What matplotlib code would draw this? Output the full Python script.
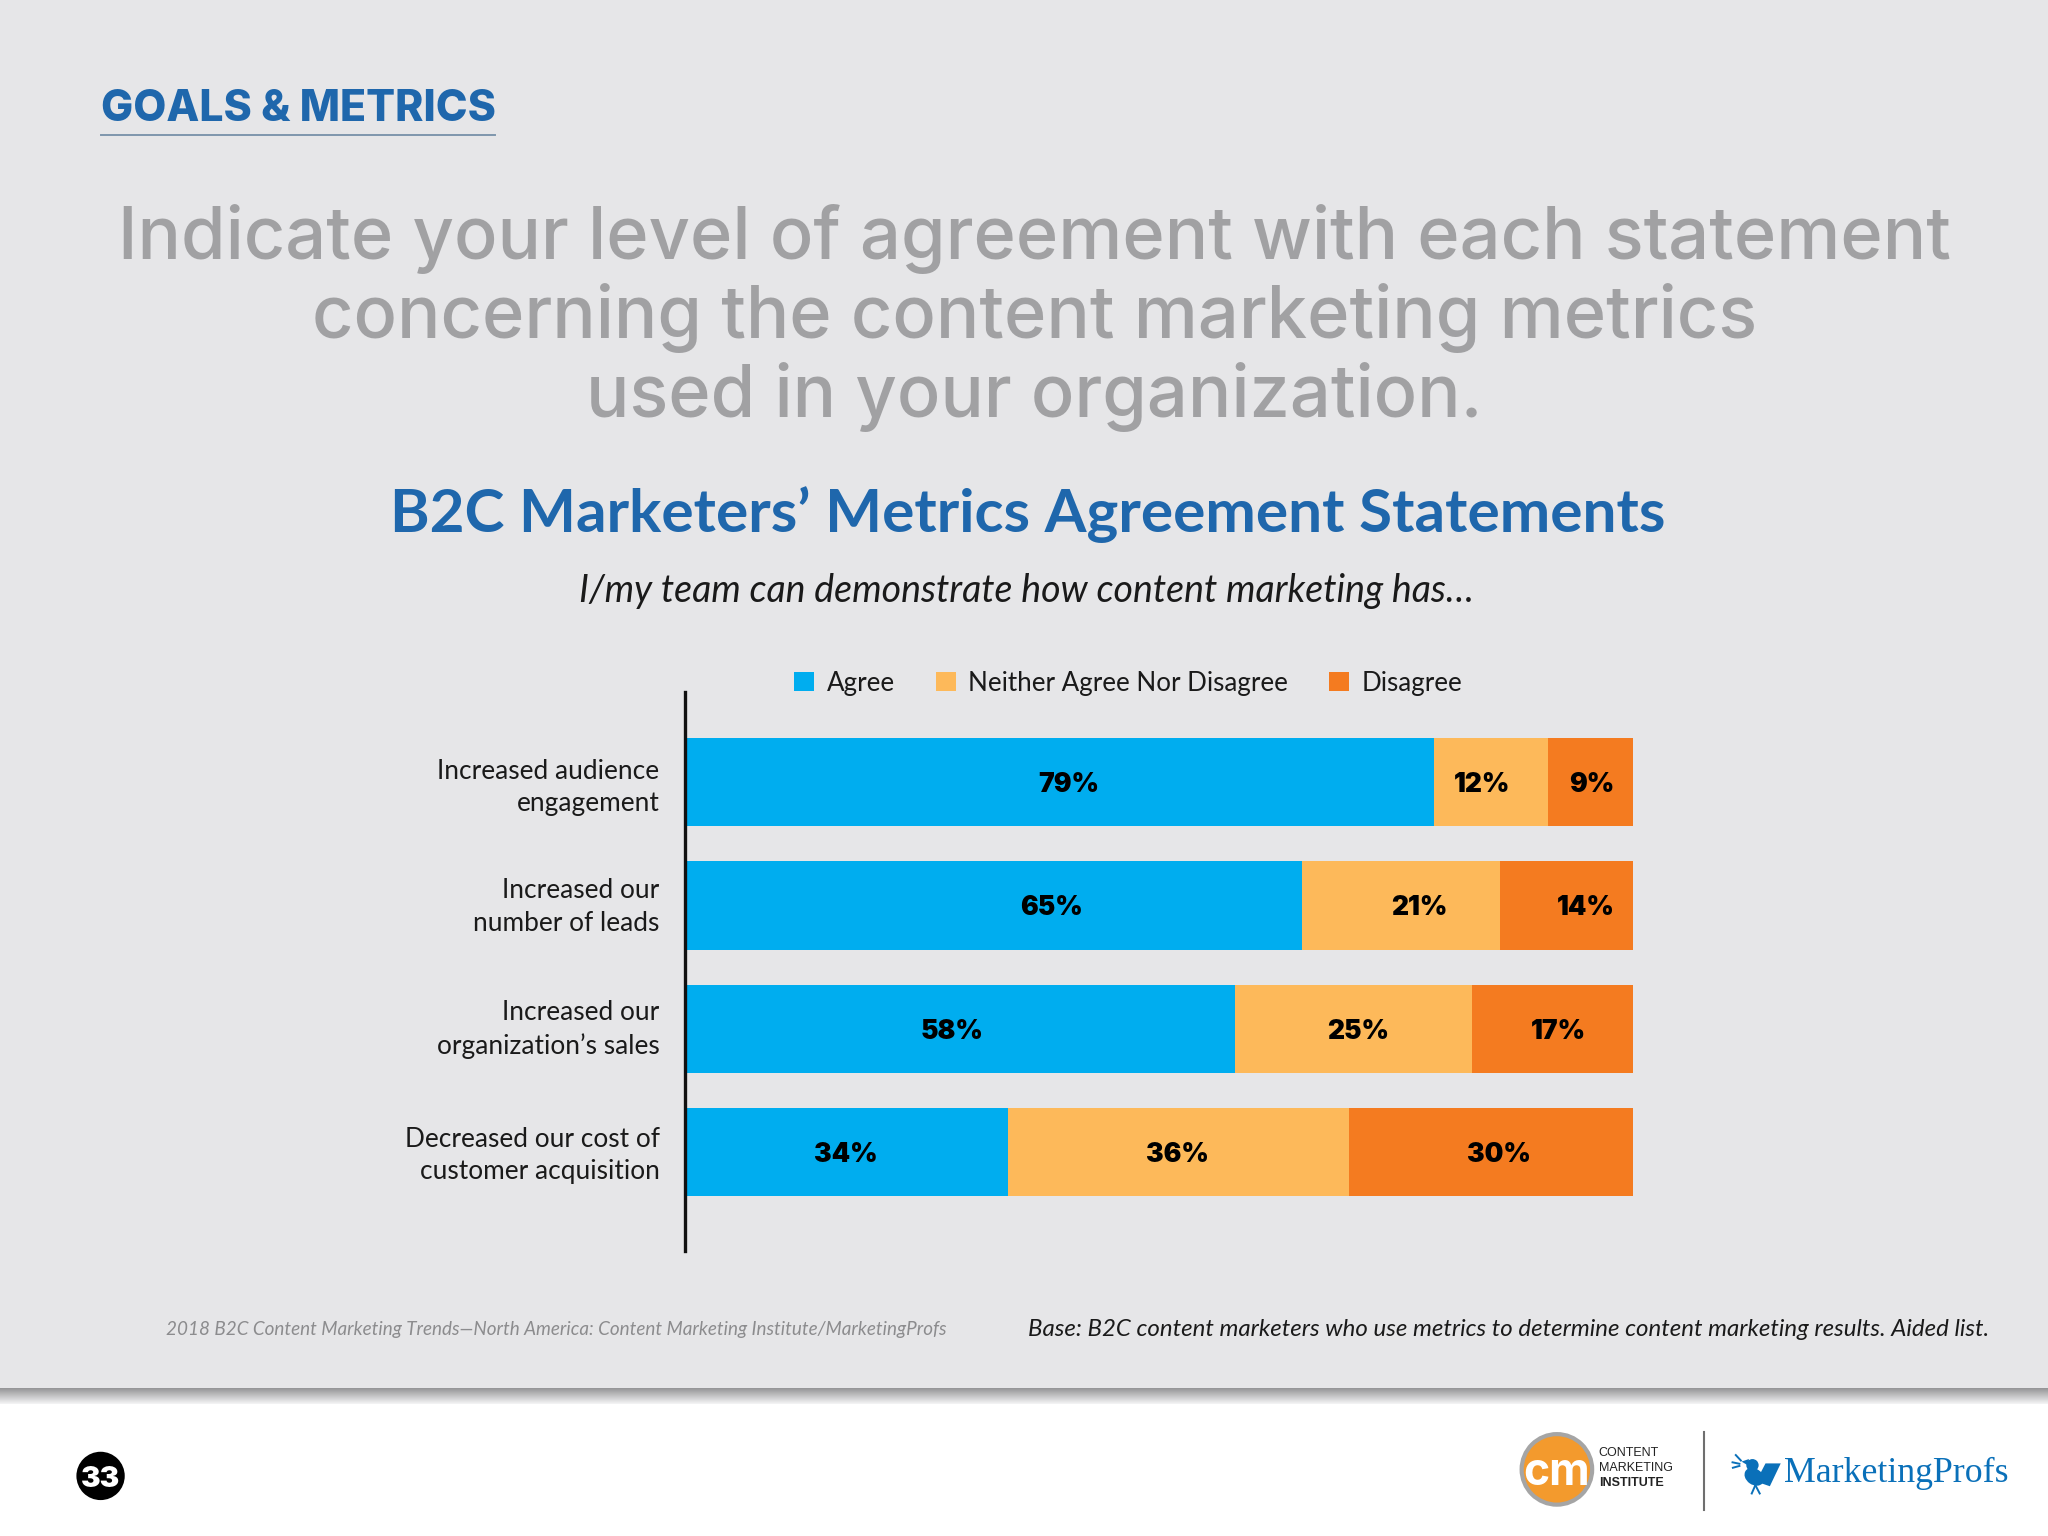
import matplotlib
matplotlib.use("Agg")
import matplotlib.pyplot as plt
from matplotlib.transforms import ScaledTranslation
import numpy as np
from matplotlib.patches import Circle, Polygon, Ellipse, Rectangle

categories = ["Increased audience\nengagement", "Increased our\nnumber of leads",
              "Increased our\norganization\u2019s sales", "Decreased our cost of\ncustomer acquisition"]
series_names = ["Agree", "Neither Agree Nor Disagree", "Disagree"]
agree = [79, 65, 58, 34]
neither = [12, 21, 25, 36]
disagree = [9, 14, 17, 30]
label_shift = [[0.9, -0.9, 0.1], [6.1, 1.9, 2.0], [-0.9, 0.5, 0.6], [-0.1, -0.1, 0.8]]
tick_nudge_pt = [0.5, 3.5, 4, 2]

BG = "#e6e6e8"; BLUE = "#1f67ac"; GREY = "#a1a1a3"
COLORS = ["#00adef", "#fdb95a", "#f47b20"]
S = 2048 / 1568
BODY = "Lato"

fig = plt.figure(figsize=(20.48, 15.36), dpi=100, facecolor="white")
bg = fig.add_axes([0, 0, 1, 1], zorder=0)
bg.set_xlim(0, 2048); bg.set_ylim(1536, 0); bg.axis("off")
bg.add_patch(Rectangle((0, 0), 2048, 1388, fc=BG, ec="none"))
shadow = np.linspace(0, 1, 32).reshape(-1, 1)
bg.imshow(shadow, extent=(0, 2048, 1404, 1388), cmap=matplotlib.colors.LinearSegmentedColormap.from_list("s", ["#959597", "#f4f4f5"]), aspect="auto")
bg.set_xlim(0, 2048); bg.set_ylim(1536, 0)

r = fig.canvas.get_renderer()
def fit(x0, x1, base, s, ha="left", **kw):
    xx = x0 if ha == "left" else (x1 if ha == "right" else (x0 + x1) / 2)
    t = bg.text(xx * S, base * S, s, ha=ha, va="baseline", fontsize=20, **kw)
    w = t.get_window_extent(r).width
    t.set_fontsize(20 * (x1 - x0) * S / w)
    return t

fit(77, 380, 93, "GOALS & METRICS", family="Inter", weight="heavy", color=BLUE)
bg.plot([77 * S, 379 * S], [103 * S, 103 * S], color="#7f96ad", lw=1.4)
fit(92, 1492, 319, "Indicate your level of agreement with each statement\nconcerning the content marketing metrics\nused in your organization.",
    ha="center", family="Inter", weight="medium", color=GREY, linespacing=1.16, multialignment="center")
fit(298, 1275, 407, "B2C Marketers\u2019 Metrics Agreement Statements", ha="center", family=BODY, weight="bold", color=BLUE)
fit(443, 1129, 461, "I/my team can demonstrate how content marketing has\u2026", ha="center", family=BODY, style="italic", color="#1a1a1a")
fit(127, 726, 1022, "2018 B2C Content Marketing Trends\u2014North America: Content Marketing Institute/MarketingProfs", family=BODY, style="italic", color="#8c8c8e")
fit(787, 1521, 1023, "Base: B2C content marketers who use metrics to determine content marketing results. Aided list.", family=BODY, style="italic", color="#1a1a1a")

# chart
ax = fig.add_axes([686 / 2048, 1 - 1251 / 1536, (1633 - 686) / 2048, (1251 - 692) / 1536], zorder=2)
ax.patch.set_alpha(0)
ax.spines["left"].set_position(("outward", 1))
y = np.arange(len(categories))
values = [agree, neither, disagree]
left = np.zeros(len(categories))
for j, (name, vals, col) in enumerate(zip(series_names, values, COLORS)):
    vals = np.array(vals)
    ax.barh(y, vals, left=left, height=0.714, color=col, label=name)
    for i, v in enumerate(vals):
        ax.text(left[i] + v / 2 + label_shift[i][j], i, f"{v}%", ha="center", va="center_baseline",
                family="Inter", weight="black", fontsize=19, color="black")
    left += vals
ax.set_xlim(0, 100)
ax.set_ylim(3.80, -0.73)
ax.set_yticks(y, categories, family=BODY, fontsize=18.9, color="#1a1a1a", ha="right", linespacing=1.37)
ax.tick_params(axis="y", length=0, pad=18)
ax.tick_params(axis="x", bottom=False, labelbottom=False)
for lab, dy in zip(ax.get_yticklabels(), tick_nudge_pt):
    lab.set_transform(lab.get_transform() + ScaledTranslation(0, dy / 72, fig.dpi_scale_trans))
for s in ["top", "right", "bottom"]:
    ax.spines[s].set_visible(False)
ax.spines["left"].set_linewidth(2.4)
ax.spines["left"].set_color("#111111")
ax.legend(loc="center", bbox_to_anchor=(0.467, 1.016), ncol=3, frameon=False,
          prop={"family": BODY, "size": 18.7}, handlelength=0.77, handleheight=0.77,
          handletextpad=0.5, columnspacing=1.56, labelcolor="#1a1a1a")

# footer
bg.add_patch(Circle((77 * S, 1130 * S), 18.5 * S, fc="black", ec="none"))
bg.text(77 * S, 1130.5 * S, "33", ha="center", va="center_baseline", color="white", family="Inter", weight="black", fontsize=21)

bg.add_patch(Circle((1192 * S, 1125 * S), 27 * S, fc="#f39a2d", ec="#a5a5a5", lw=3))
bg.text(1192 * S, 1124 * S, "cm", ha="center", va="center_baseline", color="white", family="Inter", weight="bold", fontsize=32)
for i, (line, w) in enumerate([("CONTENT", "normal"), ("MARKETING", "normal"), ("INSTITUTE", "bold")]):
    bg.text(1224 * S, (1115 + 11.5 * i) * S, line, ha="left", va="baseline", family="Liberation Sans", weight=w, fontsize=9, color="#222222")
bg.plot([1304.5 * S, 1304.5 * S], [1096 * S, 1156 * S], color="#6f6f6f", lw=1.5)
PB = "#0a70b9"
def z(zx, zy):
    return ((1480 + zx / 2.76), (1400 + zy / 2.76))
bg.add_patch(Ellipse(z(757, 212), 58 / 2.76, 44 / 2.76, angle=35, fc=PB, ec="none"))
bg.add_patch(Circle(z(752, 180), 17 / 2.76, fc=PB, ec="none"))
bg.add_patch(Polygon([z(722, 170), z(742, 163), z(742, 182)], fc=PB, ec="none"))
bg.add_patch(Polygon([z(788, 175), z(830, 175), z(800, 238), z(762, 225)], fc=PB, ec="none"))
for a, b in [(z(697, 172), z(716, 176)), (z(706, 152), z(720, 167)), (z(698, 187), z(716, 182)),
             (z(760, 235), z(750, 258)), (z(760, 235), z(772, 258))]:
    bg.plot([a[0], b[0]], [a[1], b[1]], color=PB, lw=1.4)
fit(1366, 1538, 1135, "MarketingProfs", family="Liberation Serif", color=PB)

fig.savefig("out.png", dpi=100, facecolor="white")
